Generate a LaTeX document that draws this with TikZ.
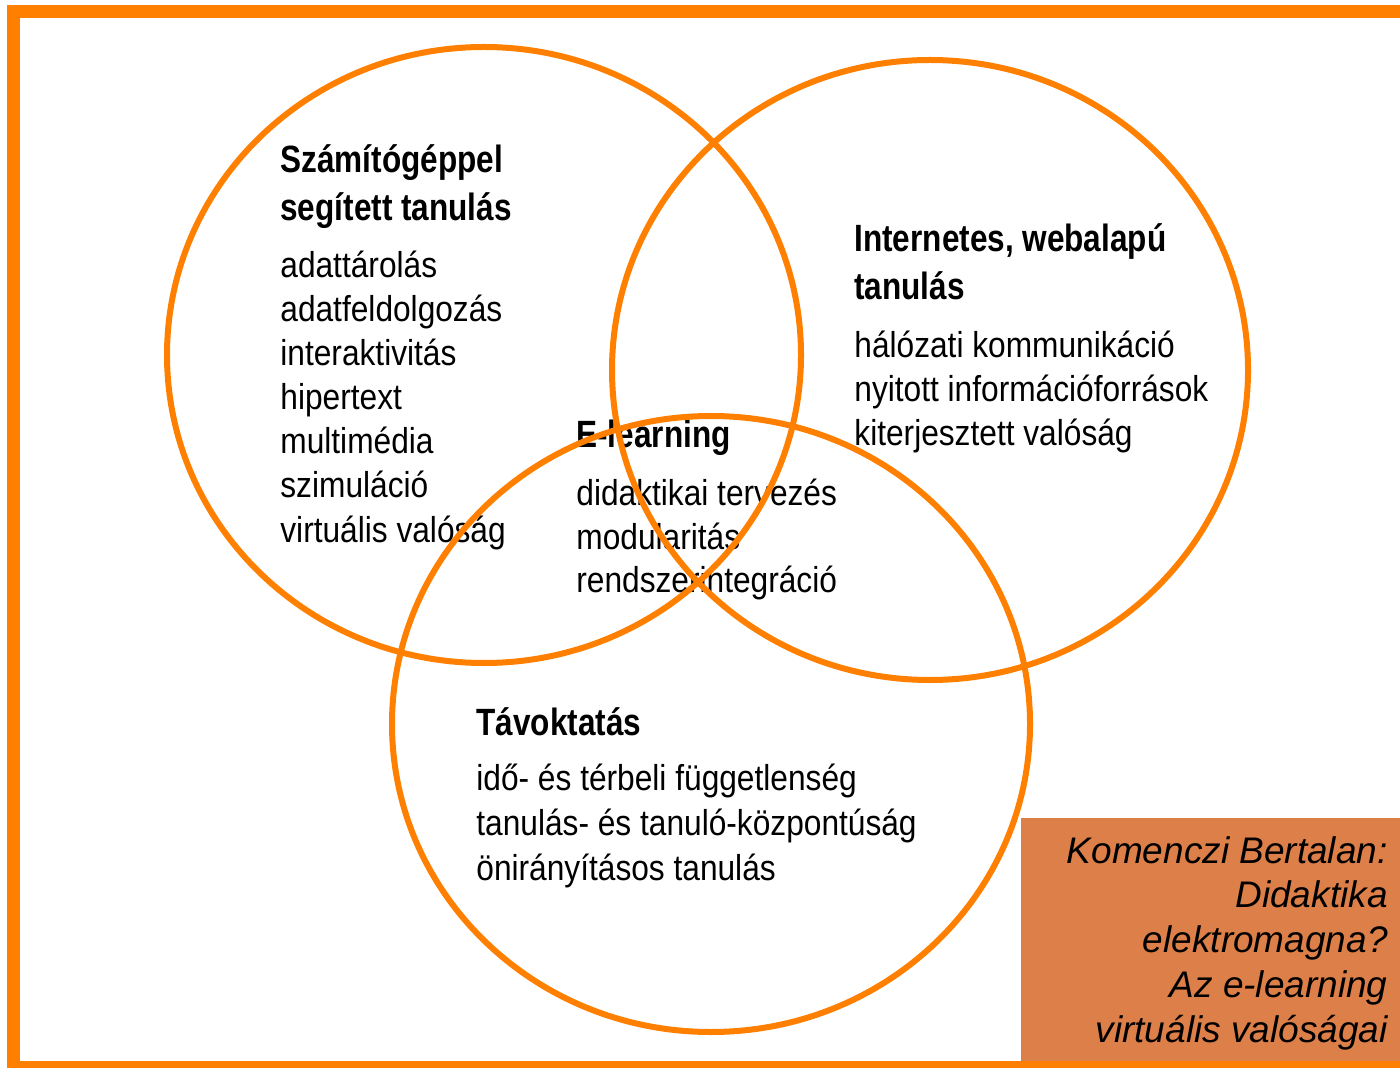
\documentclass[tikz,border=0pt]{standalone}
\usepackage{fontspec}
\setmainfont{Liberation Sans}
\newfontfamily\vennfont{Liberation Sans}[FakeStretch=0.88]
\newfontfamily\vennhead{Liberation Sans}[FakeStretch=0.83]
\definecolor{frameorange}{RGB}{255,128,0}
\definecolor{boxorange}{RGB}{221,127,72}

\begin{document}
\begin{tikzpicture}[x=0.5pt,y=-0.5pt]
\tikzstyle{ring}=[draw=frameorange, line width=3pt]
\tikzstyle{title}=[anchor=base west, inner sep=0pt, font=\vennhead\fontsize{19}{22}\selectfont\bfseries]
\tikzstyle{item}=[anchor=base west, inner sep=0pt, font=\vennfont\fontsize{18}{22}\selectfont]
\tikzstyle{source}=[anchor=base east, inner sep=0pt, font=\fontsize{18.5}{22}\selectfont\itshape]

\useasboundingbox (0,0) rectangle (1400,1068);
\fill[white] (0,0) rectangle (1400,1068);

\fill[boxorange] (1021,818) rectangle (1400,1062);
\draw[frameorange, line width=6.5pt] (1400,12) -- (13.5,12) -- (13.5,1067) -- (1400,1067);

\node[title] (cst-a) at (280,173) {Számítógéppel};
\node[title] (cst-b) at (280,221) {segített tanulás};
\foreach \t [count=\i] in {adattárolás, adatfeldolgozás, interaktivitás, hipertext, multimédia, szimuláció, virtuális valóság}
  \node[item] (cst-\i) at (280,234+44*\i) {\t};

\node[title] (web-a) at (854,252) {Internetes, webalapú};
\node[title] (web-b) at (854,300) {tanulás};
\foreach \t [count=\i] in {hálózati kommunikáció, nyitott információforrások, kiterjesztett valóság}
  \node[item] (web-\i) at (854,314+44*\i) {\t};

\node[title] (el-a) at (576,448) {E-learning};
\foreach \t [count=\i] in {didaktikai tervezés, modularitás, rendszerintegráció}
  \node[item] (el-\i) at (576,463+43*\i) {\t};

\node[title] (tav-a) at (476,735) {Távoktatás};
\foreach \t [count=\i] in {idő- és térbeli függetlenség, tanulás- és tanuló-központúság, önirányításos tanulás}
  \node[item] (tav-\i) at (476,745+45*\i) {\t};

\foreach \t [count=\i] in {Komenczi Bertalan:, Didaktika, elektromagna?, Az e-learning, virtuális valóságai}
  \node[source] (src-\i) at (1388,818.5+44.7*\i) {\t};

\coordinate (cst) at (484,355);
\coordinate (web) at (930,370);
\coordinate (tav) at (711,724);
\draw[ring] (cst) ellipse [x radius=317, y radius=308];
\draw[ring] (web) ellipse [x radius=318, y radius=310];
\draw[ring] (tav) ellipse [x radius=319, y radius=308];

\end{tikzpicture}
\end{document}
